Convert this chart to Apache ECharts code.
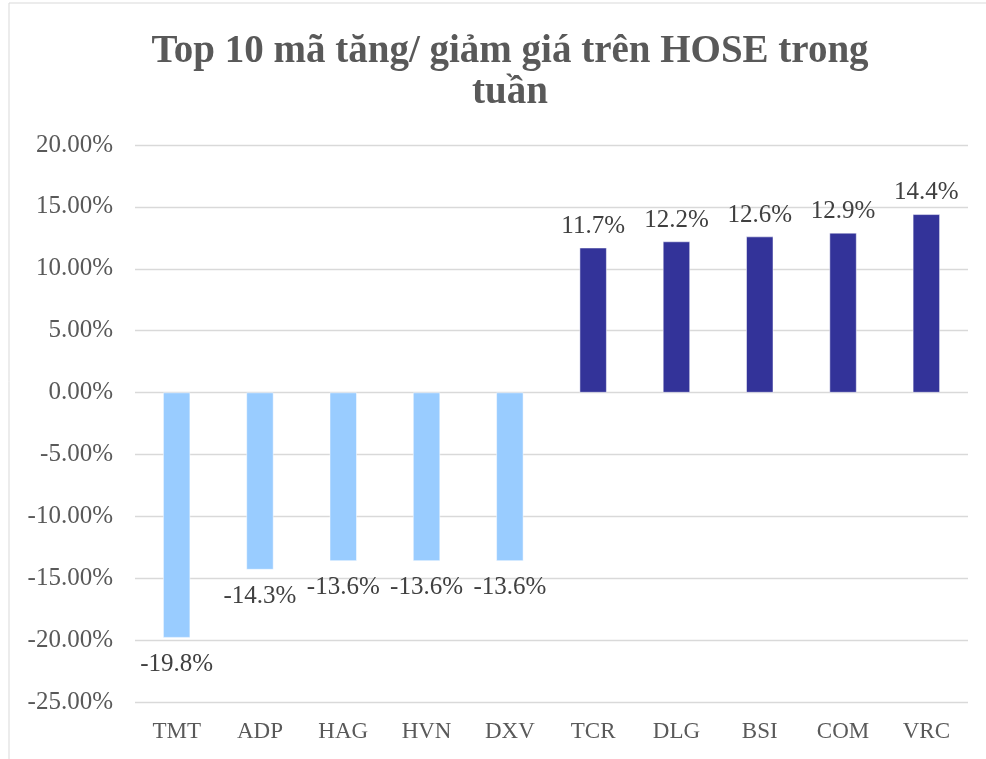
<!DOCTYPE html>
<html>
<head>
<meta charset="utf-8">
<script src="https://cdn.jsdelivr.net/npm/echarts@6/dist/echarts.min.js"></script>
<style>
  html, body { margin: 0; padding: 0; background: #fff; }
  #main { width: 986px; height: 759px; }
</style>
</head>
<body>
<div id="main"></div>
<script>
var categories = ["TMT", "ADP", "HAG", "HVN", "DXV", "TCR", "DLG", "BSI", "COM", "VRC"];
var changes = [-19.8, -14.3, -13.6, -13.6, -13.6, 11.7, 12.2, 12.6, 12.9, 14.4];
var titleText = "Top 10 mã tăng/ giảm giá trên HOSE trong\ntuần";

var fontFamily = "'Liberation Serif', serif";

var chartDom = document.getElementById("main");
var myChart = echarts.init(chartDom);

var barData = changes.map(function (v) {
  return {
    value: v,
    itemStyle: { color: v < 0 ? "#99CCFF" : "#333399" },
    label: { position: v < 0 ? "bottom" : "top", distance: v < 0 ? 14 : 9 }
  };
});

var option = {
  backgroundColor: "#fff",
  animation: false,
  graphic: [
    {
      type: "rect",
      shape: { x: 9, y: 3, width: 990, height: 770 },
      style: { fill: "none", stroke: "#d9d9d9", lineWidth: 1 },
      silent: true
    }
  ],
  title: {
    text: titleText,
    left: 505,
    top: 26,
    textAlign: "center",
    textStyle: {
      fontFamily: fontFamily,
      fontWeight: "bold",
      fontSize: 39,
      lineHeight: 41,
      color: "#595959"
    }
  },
  grid: {
    left: 135,
    right: 18,
    top: 145,
    bottom: 57,
    containLabel: false
  },
  xAxis: {
    type: "category",
    data: categories,
    axisLine: { show: false, onZero: false },
    axisTick: { show: false },
    axisLabel: {
      fontFamily: fontFamily,
      fontSize: 23,
      color: "#595959",
      margin: 18
    }
  },
  yAxis: {
    type: "value",
    min: -25,
    max: 20,
    interval: 5,
    axisLine: { show: false },
    axisTick: { show: false },
    splitLine: { lineStyle: { color: "#d9d9d9", width: 1.3 } },
    axisLabel: {
      fontFamily: fontFamily,
      fontSize: 25,
      color: "#595959",
      margin: 22,
      formatter: function (v) { return v.toFixed(2) + "%"; }
    }
  },
  series: [
    {
      type: "bar",
      data: barData,
      barWidth: 27,
      itemStyle: { borderColor: "#fff", borderWidth: 0.5 },
      label: {
        show: true,
        fontFamily: fontFamily,
        fontSize: 25,
        color: "#404040",
        formatter: function (p) { return p.value.toFixed(1) + "%"; }
      }
    }
  ]
};

option && myChart.setOption(option);
</script>
</body>
</html>
